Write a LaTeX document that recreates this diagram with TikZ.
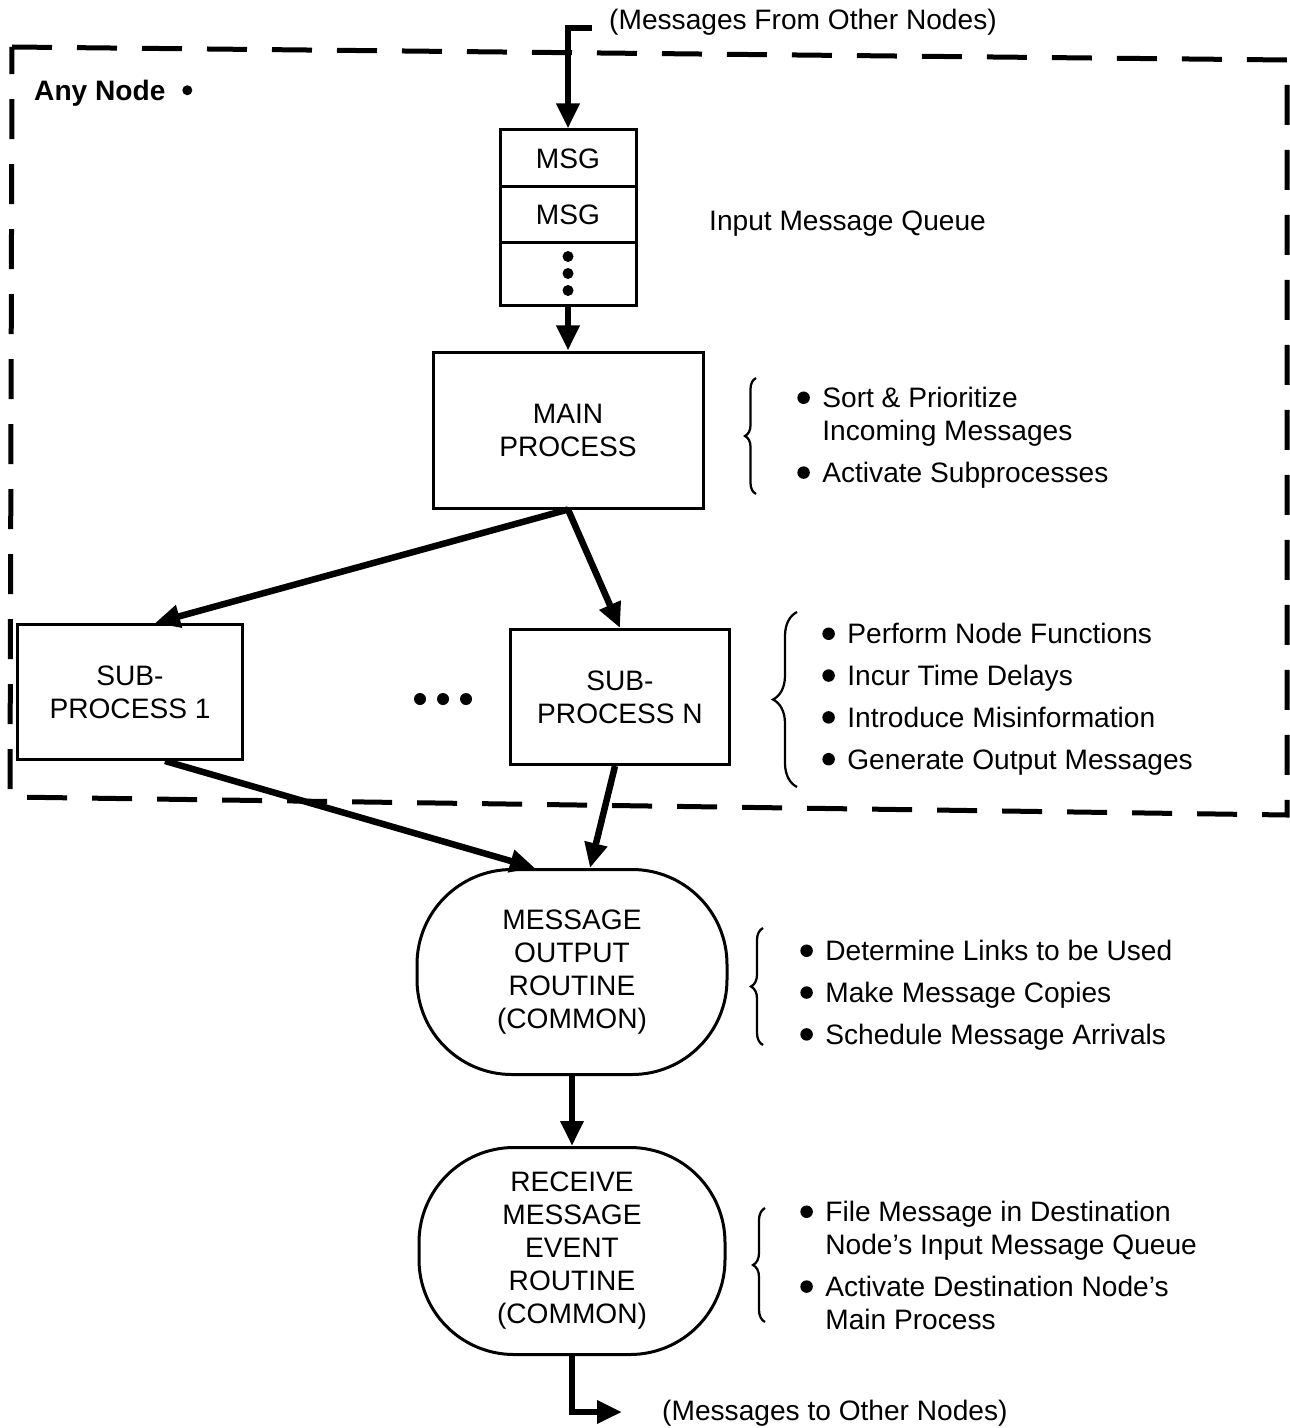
\documentclass[tikz,border=0pt]{standalone}
\usepackage{fontspec}
\setmainfont{Liberation Sans}
\usepackage{tikz}
\usetikzlibrary{arrows.meta,decorations.pathreplacing,positioning}
\newcommand{\dotmark}[1]{\tikz[baseline=-2mm]\fill (0,0) circle (#1);}
\newcommand{\bul}{\makebox[5mm][l]{\dotmark{1.25mm}}}
\newcommand{\ind}{\hspace*{5mm}}

\begin{document}
\begin{tikzpicture}[x=0.2mm,y=-0.2mm,
  every node/.style={font=\fontsize{16}{18.8}\selectfont},
  box/.style={draw,line width=0.6mm,fill=white,align=center,inner sep=0pt},
  qcell/.style={box,minimum width=27.2mm},
  routine/.style={box,rounded corners=19mm},
  notes/.style={align=left,anchor=north west,inner sep=0pt},
  flow/.style={line width=1.3mm,-{Triangle[length=5mm,width=4.4mm]}},
  brc/.style={decorate,line width=0.45mm}]
  \useasboundingbox (0,0) rectangle (1289,1428);
  \draw[line width=1mm,dash pattern=on 8mm off 5mm] (12,47) -- (1287,60) -- (1287,815) -- (10,797) -- cycle;
  \node[anchor=west,font=\bfseries\fontsize{16}{18.8}\selectfont] (anyNode) at (28,93) {Any Node\hspace{0.6em}\dotmark{1mm}};

  \node[anchor=west] (fromTxt) at (603,22) {(Messages From Other Nodes)};
  \coordinate (inTop) at (592,28);
  \node[qcell,minimum height=11.4mm] (q1) at (568,158.5) {MSG};
  \node[qcell,minimum height=11mm,below=-0.6mm of q1] (q2) {MSG};
  \node[qcell,minimum height=12.6mm,below=-0.6mm of q2] (q3) {};
  \foreach \d in {3.4,0,-3.4} \fill ([yshift=\d mm]q3.center) circle (1.1mm);
  \node[anchor=west] (queueTxt) at (703,224) {Input Message Queue};

  \node[box,minimum width=54mm,minimum height=31.2mm] (main) at (568,430) {MAIN\\PROCESS};
  \node[box,minimum width=44.8mm,minimum height=27mm] (sub1) at (130,692) {SUB-\\PROCESS 1};
  \node[box,minimum width=43.8mm,minimum height=27mm] (subN) at (620,697) {SUB-\\PROCESS N};
  \foreach \i in {-1,0,1} \fill (443+23*\i,699) circle (1.2mm);
  \node[routine,minimum width=62mm,minimum height=41mm] (outR) at (572,972) {MESSAGE\\OUTPUT\\ROUTINE\\(COMMON)};
  \node[routine,minimum width=61.2mm,minimum height=41.4mm] (recvR) at (572,1251) {RECEIVE\\MESSAGE\\EVENT\\ROUTINE\\(COMMON)};
  \coordinate (outEnd) at (622,1412);
  \node[anchor=west] (toTxt) at (656,1413) {(Messages to Other Nodes)};

  \draw[flow] (inTop) -| (q1.north);
  \draw[flow] (q3.south) -- (main.north);
  \draw[flow] (main.south) -- ([xshift=5mm]sub1.north);
  \draw[flow] (main.south) -- (subN.north);
  \draw[flow] ([xshift=7mm]sub1.south) -- ([xshift=-7.4mm]outR.north);
  \draw[flow] ([xshift=-1mm]subN.south) -- ([xshift=3.6mm]outR.north);
  \draw[flow] (outR.south) -- (recvR.north);
  \draw[flow] (recvR.south) |- (outEnd);

  \node[notes] (mainNotes) at (797,387) {\bul Sort \& Prioritize\\\ind Incoming Messages\\[5pt]\bul Activate Subprocesses};
  \node[notes] (subNotes) at (822,623) {\bul Perform Node Functions\\[5pt]\bul Incur Time Delays\\[5pt]\bul Introduce Misinformation\\[5pt]\bul Generate Output Messages};
  \node[notes] (outNotes) at (800,940) {\bul Determine Links to be Used\\[5pt]\bul Make Message Copies\\[5pt]\bul Schedule Message Arrivals};
  \node[notes] (recvNotes) at (800,1201) {\bul File Message in Destination\\\ind Node's Input Message Queue\\[5pt]\bul Activate Destination Node's\\\ind Main Process};
  \foreach \x/\t/\b/\a in {756/378/494/2.2,797/612/787/4.8,763/928/1045/2.4,765/1208/1322/2.4}
    \draw[brc,decoration={brace,amplitude=\a mm}] (\x,\b) -- (\x,\t);
\end{tikzpicture}
\end{document}
